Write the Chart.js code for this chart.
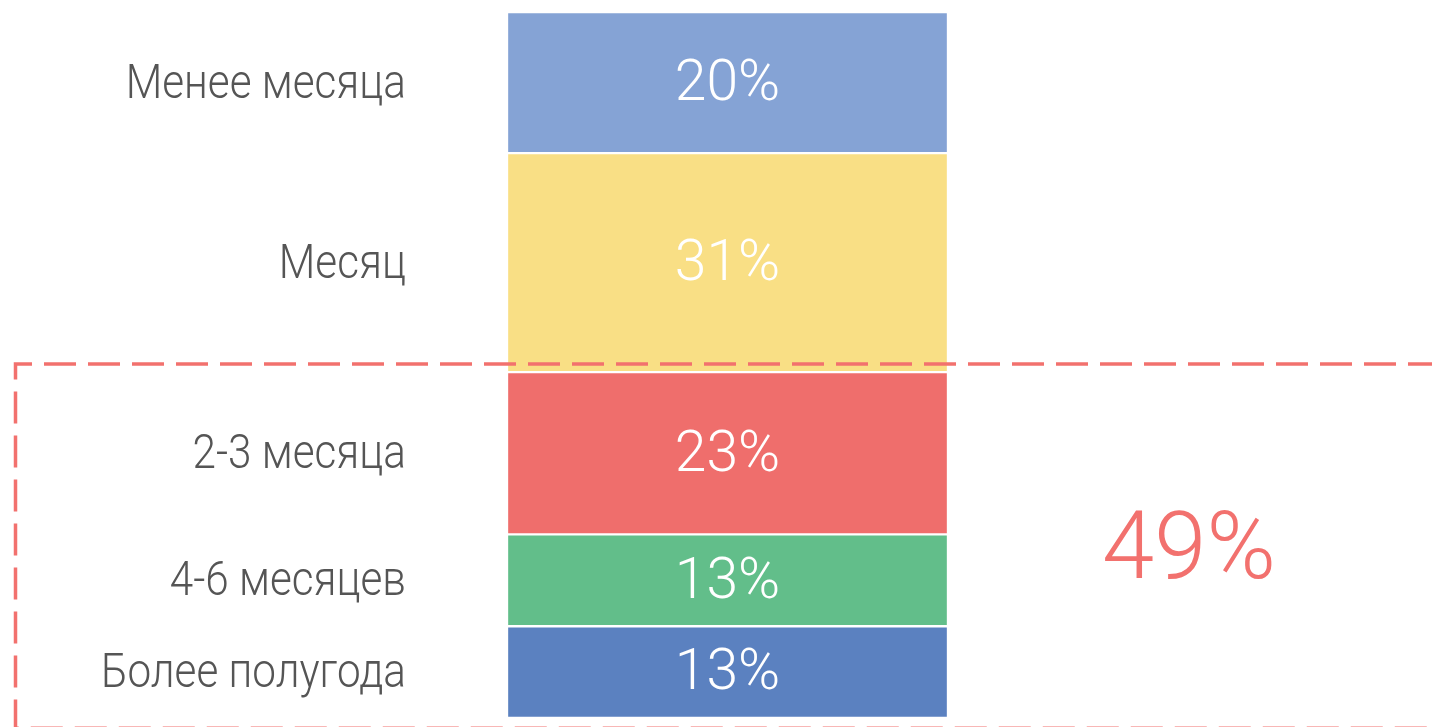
<!DOCTYPE html>
<html>
<head>
<meta charset="utf-8">
<script src="https://cdn.jsdelivr.net/npm/chart.js@4.4.1/dist/chart.umd.min.js"></script>
<style>
html,body{margin:0;padding:0;background:#fff;}
#wrap{width:1432px;height:727px;position:relative;}
</style>
</head>
<body>
<div id="wrap"><canvas id="c" width="1432" height="727"></canvas></div>
<script>
// Data (top to bottom)
const categories = ['Менее месяца', 'Месяц', '2-3 месяца', '4-6 месяцев', 'Более полугода'];
const values = [20, 31, 23, 13, 13];
const colors = ['#85a3d5', '#f9df85', '#ef6e6c', '#62be8a', '#5b81c0'];
const groupedCategories = ['2-3 месяца', '4-6 месяцев', 'Более полугода'];
const groupTotal = groupedCategories.reduce((s, c) => s + values[categories.indexOf(c)], 0);

// Chart.js stacks the first dataset at the bottom, so reverse
const datasets = categories.map((c, i) => ({
  label: c,
  data: [values[i]],
  backgroundColor: colors[i],
  borderColor: '#ffffff',
  borderWidth: 1.5,
  borderSkipped: false,
  barPercentage: 1,
  categoryPercentage: 1
})).reverse();

const LABEL_FONT = '300 48px Roboto';
const VALUE_FONT = '300 57px Roboto';
const BIG_FONT = '300 94px Roboto';
const RED = '#f2716e';

const overlay = {
  id: 'overlay',
  afterDatasetsDraw(chart) {
    const ctx = chart.ctx;
    const area = chart.chartArea;
    const y = chart.scales.y;
    ctx.save();
    chart.data.datasets.forEach((ds, di) => {
      const el = chart.getDatasetMeta(di).data[0];
      const top = Math.min(el.y, el.base), bot = Math.max(el.y, el.base);
      const cy = (top + bot) / 2;
      // category label on the left
      ctx.save();
      ctx.font = LABEL_FONT;
      ctx.fillStyle = '#555555';
      ctx.textBaseline = 'middle';
      ctx.textAlign = 'right';
      ctx.translate(area.left - 101, cy + 3);
      ctx.scale(0.88, 1);
      ctx.fillText(ds.label, 0, 0);
      ctx.restore();
      // value inside bar
      ctx.font = VALUE_FONT;
      ctx.fillStyle = '#ffffff';
      ctx.textAlign = 'center';
      ctx.textBaseline = 'middle';
      ctx.fillText(ds.data[0] + '%', (area.left + area.right) / 2, cy + 3);
    });
    // dashed group rectangle
    const groupTopY = y.getPixelForValue(groupTotal) - 8;
    ctx.strokeStyle = RED;
    ctx.lineWidth = 3.5;
    ctx.setLineDash([32, 12]);
    ctx.beginPath();
    ctx.moveTo(1440, groupTopY);
    ctx.lineTo(15.5, groupTopY);
    ctx.lineTo(15.5, 728.3);
    ctx.lineTo(1440, 728.3);
    ctx.stroke();
    ctx.setLineDash([]);
    // group total
    ctx.font = BIG_FONT;
    ctx.fillStyle = RED;
    ctx.textAlign = 'center';
    ctx.textBaseline = 'middle';
    ctx.fillText(groupTotal + '%', 1189, 554);
    ctx.restore();
  }
};

new Chart(document.getElementById('c'), {
  type: 'bar',
  data: { labels: [''], datasets },
  options: {
    responsive: false,
    animation: false,
    layout: { padding: { left: 507, right: 484, top: 12, bottom: 9 } },
    plugins: { legend: { display: false }, tooltip: { enabled: false } },
    scales: {
      x: { stacked: true, display: false },
      y: { stacked: true, display: false, min: 0, max: 100 }
    }
  },
  plugins: [overlay]
});
</script>
</body>
</html>
